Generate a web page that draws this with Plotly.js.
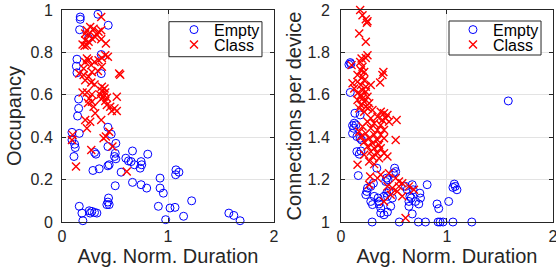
<!DOCTYPE html>
<html>
<head>
<meta charset="utf-8">
<script src="https://cdn.plot.ly/plotly-3.0.1.min.js"></script>
<style>html,body{margin:0;padding:0;background:#fff;}#chart{width:556px;height:272px;}</style>
</head>
<body>
<div id="chart"></div>
<script>
// ---- Left panel: Occupancy vs Avg. Norm. Duration ----
const occEmptyX = [0.172,0.172,0.339,0.166,0.436,0.25,0.37,0.141,0.135,0.141,0.37,0.157,0.157,0.147,0.094,0.163,0.094,0.119,0.125,0.113,0.433,0.464,0.508,0.433,0.502,0.307,0.32,0.495,0.508,0.665,0.809,0.602,0.627,0.652,0.683,0.746,0.752,0.737,0.445,0.433,0.351,0.292,0.558,1.075,1.103,1.072,0.925,0.665,0.746,0.799,0.502,0.925,0.956,1.223,0.439,0.433,0.423,0.445,0.163,0.188,0.257,0.282,0.307,0.329,0.266,0.197,0.909,1.019,1.066,0.978,1.147,1.574,1.621,1.68];
const occEmptyY = [0.967,0.956,0.98,0.907,0.928,0.867,0.79,0.768,0.735,0.704,0.70,0.58,0.536,0.5,0.423,0.418,0.387,0.367,0.351,0.309,0.447,0.414,0.371,0.356,0.324,0.328,0.32,0.309,0.298,0.335,0.32,0.301,0.288,0.285,0.27,0.285,0.27,0.254,0.27,0.265,0.251,0.243,0.235,0.246,0.235,0.223,0.207,0.187,0.176,0.16,0.171,0.16,0.136,0.1,0.113,0.094,0.082,0.082,0.074,0.042,0.053,0.05,0.045,0.042,0.042,0.006,0.074,0.066,0.069,0.011,0.027,0.042,0.031,0.006];

const occClassX = [0.37,0.266,0.235,0.298,0.219,0.251,0.329,0.345,0.37,0.313,0.282,0.219,0.194,0.235,0.251,0.37,0.414,0.213,
  0.408,0.433,0.376,0.345,0.307,0.251,0.235,0.219,0.276,0.376,0.204,0.282,0.339,0.163,0.204,0.251,0.219,0.276,0.307,0.539,0.549,0.376,0.401,
  0.194,0.235,0.282,0.376,0.408,0.361,0.392,0.423,0.37,0.408,0.517,0.257,0.282,0.245,0.298,0.423,0.455,0.495,0.517,0.47,0.313,0.37,0.219,0.266,0.235,0.445,0.414,0.392,0.1,0.094,0.476,0.276,0.132,0.611];
const occClassY = [0.967,0.92,0.904,0.912,0.889,0.884,0.884,0.897,0.904,0.873,0.865,0.857,0.837,0.834,0.85,0.862,0.842,0.831,
  0.787,0.779,0.774,0.763,0.755,0.763,0.771,0.755,0.74,0.732,0.724,0.708,0.712,0.701,0.693,0.685,0.669,0.658,0.649,0.70,0.695,0.638,0.63,
  0.611,0.611,0.602,0.618,0.611,0.6,0.591,0.586,0.58,0.571,0.591,0.583,0.567,0.561,0.544,0.552,0.544,0.536,0.524,0.524,0.513,0.481,0.481,0.473,0.442,0.426,0.403,0.395,0.411,0.387,0.356,0.34,0.262,0.238];

// ---- Right panel: Connections per device vs Avg. Norm. Duration ----
const connEmptyX = [0.0875,0.094,0.075,0.0875,0.131,0.181,0.125,0.109,0.141,0.119,0.109,0.15,0.181,0.194,0.15,0.188,0.172,0.338,0.163,0.506,0.516,0.494,0.431,0.444,0.422,0.306,0.281,0.25,0.244,0.234,0.281,0.297,0.359,0.375,0.375,0.406,0.438,0.469,0.484,0.453,0.431,0.438,0.406,0.359,0.35,0.313,0.609,0.625,0.672,0.681,0.65,0.663,0.641,0.641,0.672,0.703,0.744,0.75,0.734,0.813,0.906,0.922,1.016,1.069,1.078,1.056,1.094,1.578,0.294,0.55,0.73,0.797,0.916,0.935,0.963,1.056,1.234];
const connEmptyY = [1.752,1.746,1.743,1.611,1.513,1.505,1.466,1.455,1.458,1.442,1.418,1.403,1.395,1.387,1.332,1.335,1.32,1.254,1.219,1.254,1.238,1.23,1.207,1.199,1.191,1.183,1.168,1.16,1.144,1.129,1.097,1.082,1.097,1.066,1.042,1.034,1.047,1.074,1.113,1.144,1.136,1.121,1.121,1.085,1.113,1.121,1.168,1.152,1.176,1.152,1.121,1.113,1.097,1.074,1.038,1.097,1.136,1.113,1.085,1.176,1.085,1.063,1.097,1.179,1.168,1.163,1.152,1.571,1.0,1.0,1.0,1.0,1.0,1.0,1.0,1.0,1.0];

const connClassX = [0.181,0.203,0.234,0.25,0.244,0.172,0.234,0.25,0.234,0.194,0.181,0.1,0.203,0.188,0.219,0.4,0.391,0.369,0.156,0.203,0.219,0.156,0.109,0.188,0.234,0.281,0.125,0.203,0.234,0.156,0.188,0.25,0.203,0.156,0.219,0.266,0.188,0.234,0.172,0.256,0.297,0.219,0.375,0.406,0.438,0.344,0.422,0.281,0.391,0.453,0.525,0.25,0.313,0.375,0.203,0.281,0.344,0.406,0.172,0.234,0.313,0.375,0.188,0.266,0.344,0.406,0.219,0.297,0.359,0.516,0.25,0.313,0.375,0.281,0.344,0.406,0.219,0.297,0.359,0.438,0.266,0.313,0.156,0.453,0.375,0.275,0.344,0.516,0.547,0.266,0.438,0.484,0.547,0.578,0.641,0.688,0.531,0.469,0.406,0.578,0.609];
const connClassY = [2.0,1.975,1.956,1.947,1.94,1.889,1.85,1.787,1.774,1.771,1.755,1.74,1.732,1.716,1.708,1.708,1.693,1.658,1.693,1.685,1.669,1.661,1.654,1.646,1.638,1.646,1.63,1.622,1.614,1.607,1.599,1.591,1.583,1.575,1.567,1.56,1.552,1.544,1.536,1.536,1.528,1.52,1.52,1.513,1.505,1.497,1.489,1.489,1.481,1.473,1.481,1.473,1.466,1.458,1.45,1.442,1.434,1.434,1.426,1.418,1.411,1.411,1.403,1.395,1.387,1.395,1.379,1.371,1.364,1.387,1.356,1.348,1.348,1.332,1.324,1.324,1.317,1.309,1.301,1.309,1.285,1.273,1.27,1.23,1.223,1.215,1.207,1.207,1.191,1.176,1.168,1.16,1.168,1.183,1.168,1.152,1.144,1.129,1.097,1.121,1.019];

const seriesNames = ['Empty', 'Class'];
const xTickVals = [0, 1, 2];
const xTitle = 'Avg. Norm. Duration';
const yTitleLeft = 'Occupancy';
const yTitleRight = 'Connections per device';

const txt = '#262626';
const font = 'Liberation Sans, Arial, Helvetica, sans-serif';
const emptyMarker = {symbol: 'circle-open', size: 8, color: '#0000ff', line: {width: 1}};
const classMarker = {symbol: 'x-thin-open', size: 8, color: '#ff0000', line: {width: 1.4}};

const traces = [
  {x: occEmptyX, y: occEmptyY, name: seriesNames[0], mode: 'markers', type: 'scatter', marker: emptyMarker, xaxis: 'x', yaxis: 'y', legend: 'legend', cliponaxis: false},
  {x: occClassX, y: occClassY, name: seriesNames[1], mode: 'markers', type: 'scatter', marker: classMarker, xaxis: 'x', yaxis: 'y', legend: 'legend2', cliponaxis: false},
  {x: connEmptyX, y: connEmptyY, name: seriesNames[0], mode: 'markers', type: 'scatter', marker: emptyMarker, xaxis: 'x2', yaxis: 'y2', legend: 'legend3', cliponaxis: false},
  {x: connClassX, y: connClassY, name: seriesNames[1], mode: 'markers', type: 'scatter', marker: classMarker, xaxis: 'x2', yaxis: 'y2', legend: 'legend4', cliponaxis: false}
];

function xax(domain, anchor) {
  return {domain: domain, anchor: anchor, range: [0, 2], tickvals: xTickVals, ticks: 'inside', ticklen: 4,
    tickcolor: txt, mirror: 'ticks', showline: true, linecolor: txt, linewidth: 1, showgrid: true,
    gridcolor: '#e3e3e3', zeroline: false, tickfont: {size: 16, color: txt}, ticklabeloverflow: 'allow',
    title: {text: xTitle, font: {size: 20, color: txt}, standoff: 4}};
}
function yax(range, anchor, title, labelGap, titleGap) {
  return {domain: [0, 1], anchor: anchor, range: range, dtick: 0.2, ticks: 'inside', ticklen: 4,
    tickcolor: txt, mirror: 'ticks', showline: true, linecolor: txt, linewidth: 1, showgrid: true,
    gridcolor: '#e3e3e3', zeroline: false, tickfont: {size: 16, color: txt}, ticklabelstandoff: labelGap,
    title: {text: title, font: {size: 20, color: txt}, standoff: titleGap}};
}
const legendStyle = (x, y) => ({x: x, y: y, xanchor: 'left', yanchor: 'top', bgcolor: 'rgba(0,0,0,0)',
  borderwidth: 0, font: {size: 16, color: '#000'}});

const boxLine = {color: txt, width: 1};
const layout = {
  width: 556, height: 272,
  margin: {l: 62, r: 3, t: 10, b: 50},
  paper_bgcolor: '#ffffff', plot_bgcolor: '#ffffff',
  font: {family: font, color: txt},
  showlegend: true,
  xaxis: xax([0, 0.4318], 'y'),
  yaxis: yax([0, 1], 'x', yTitleLeft, 5, 3),
  xaxis2: xax([0.5682, 1], 'y2'),
  yaxis2: yax([1, 2], 'x2', yTitleRight, 7, 0),
  legend: legendStyle(0.2281, 0.9873),
  legend2: legendStyle(0.2281, 0.9165),
  legend3: legendStyle(0.7963, 0.9873),
  legend4: legendStyle(0.7963, 0.9165),
  shapes: [
    {type: 'rect', xref: 'paper', yref: 'paper', x0: 0.2179, x1: 0.4073, y0: 0.7797, y1: 0.9448, line: boxLine, fillcolor: '#ffffff', layer: 'above'},
    {type: 'rect', xref: 'paper', yref: 'paper', x0: 0.7882, x1: 0.9756, y0: 0.7877, y1: 0.9481, line: boxLine, fillcolor: '#ffffff', layer: 'above'}
  ]
};

Plotly.newPlot('chart', traces, layout, {staticPlot: true, displayModeBar: false});
</script>
</body>
</html>
